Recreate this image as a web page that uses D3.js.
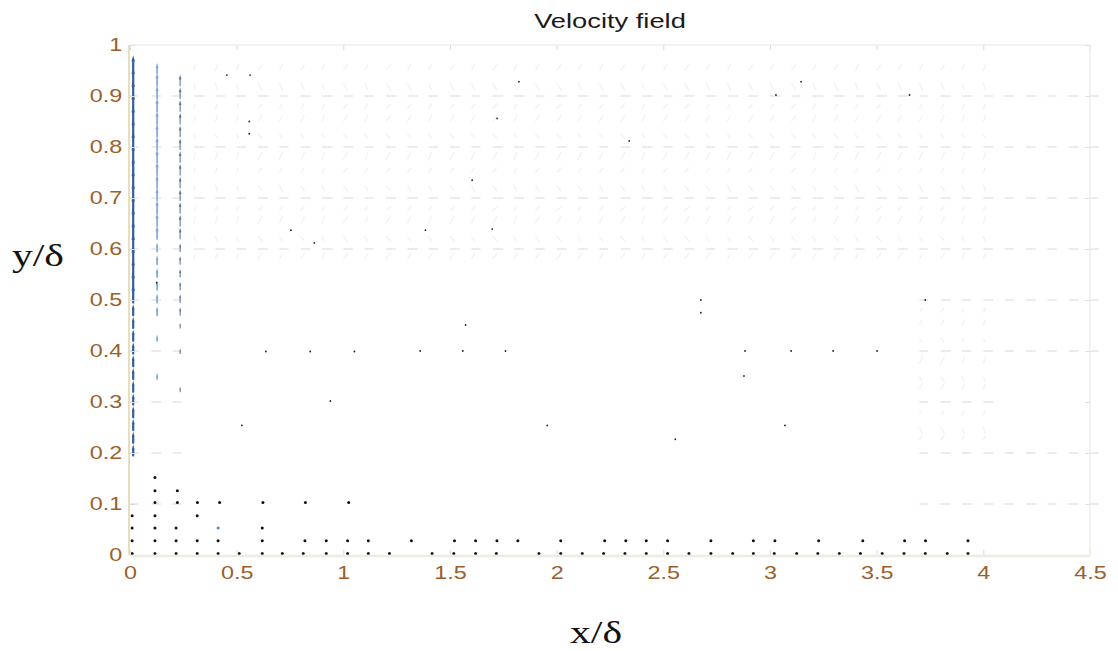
<!DOCTYPE html>
<html>
<head>
<meta charset="utf-8">
<script src="https://cdn.jsdelivr.net/npm/d3@7"></script>
<style>
  body { margin: 0; background: #ffffff; }
  svg { display: block; }
</style>
</head>
<body>
<svg id="chart" width="1118" height="651"></svg>
<script>
// ---- axis ticks ----
const xTicks = [0, 0.5, 1, 1.5, 2, 2.5, 3, 3.5, 4, 4.5];
const yTicks = [0, 0.1, 0.2, 0.3, 0.4, 0.5, 0.6, 0.7, 0.8, 0.9, 1];

// ---- wall jet: three columns of upward vectors near x = 0 ----
const jetX = [0.015, 0.127, 0.235];
const jetRowY = [0.945, 0.92, 0.895, 0.87, 0.845, 0.82, 0.795, 0.77, 0.745, 0.72,
                 0.695, 0.67, 0.645, 0.62, 0.595, 0.57, 0.545, 0.52, 0.495, 0.47,
                 0.445, 0.42, 0.395, 0.37, 0.345, 0.32, 0.295, 0.27, 0.245, 0.22, 0.195];
const jetV0 = [0.027, 0.027, 0.027, 0.027, 0.027, 0.027, 0.027, 0.027, 0.027, 0.027,
               0.027, 0.027, 0.027, 0.027, 0.027, 0.027, 0.027, 0.027, 0.027, 0.014,
               0.014, 0.014, 0.014, 0.014, 0.014, 0.014, 0.014, 0.014, 0.014, 0.014, 0.014];
const jetV1 = [0.014, 0.02, 0.02, 0.02, 0.02, 0.02, 0.02, 0.02, 0.02, 0.02,
               0.02, 0.02, 0.02, 0.02, 0.012, 0.012, 0.012, 0.012, 0.012, 0.012,
               0, 0.006, 0, 0, 0.006, 0, 0, 0, 0, 0, 0];
const jetV2 = [0, 0.018, 0.018, 0.018, 0.018, 0.018, 0.018, 0.018, 0.018, 0.018,
               0.018, 0.018, 0.018, 0.018, 0.012, 0.012, 0.012, 0.012, 0.012, 0.012,
               0.006, 0, 0.006, 0, 0, 0.006, 0, 0, 0, 0, 0];

// ---- measurement grid columns and horizontal components ----
const fieldColX = [0, 0.1, 0.2, 0.3, 0.4, 0.5, 0.6, 0.7, 0.8, 0.9,
                   1.0, 1.1, 1.2, 1.3, 1.4, 1.5, 1.6, 1.7, 1.8, 1.9,
                   2.0, 2.1, 2.2, 2.3, 2.4, 2.5, 2.6, 2.7, 2.8, 2.9,
                   3.0, 3.1, 3.2, 3.3, 3.4, 3.5, 3.6, 3.7, 3.8, 3.9,
                   4.0, 4.1, 4.2, 4.3, 4.4, 4.5];
const fieldU = [0.04, 0.045, 0.042, 0.05, 0.046, 0.044, 0.048, 0.043, 0.047, 0.05,
                0.045, 0.042, 0.046, 0.049, 0.044, 0.047, 0.043, 0.05, 0.046, 0.044,
                0.048, 0.045, 0.042, 0.047, 0.05, 0.044, 0.046, 0.043, 0.049, 0.045,
                0.047, 0.044, 0.05, 0.046, 0.043, 0.048, 0.045, 0.042, 0.047, 0.044,
                0.046, 0.043, 0.045, 0.044, 0.046, 0.04];

// main rows of the grid and the x-ranges where they carry vectors
const gridRowY = [0.1, 0.2, 0.3, 0.4, 0.5, 0.6, 0.7, 0.8, 0.9];
const gridRowSegments = [
  [[0, 0.25], [3.7, 4.5]],
  [[0, 0.25], [3.7, 4.5]],
  [[0, 0.25], [3.7, 4.0]],
  [[0, 0.25], [3.7, 4.5]],
  [[0, 0.25], [3.7, 4.5]],
  [[0, 4.5]],
  [[0, 4.5]],
  [[0, 4.5]],
  [[0, 4.5]]
];

// weak recirculating flow between the main rows
const wakeU = [null, null, null, 0.006, 0.01, 0.008, 0.02, 0.015, 0.018, 0.012,
               0.02, 0.016, 0.022, 0.018, 0.014, 0.02, 0.017, 0.021, 0.015, 0.019,
               0.022, 0.016, 0.018, 0.02, 0.014, 0.019, 0.021, 0.017, 0.015, 0.02,
               0.018, 0.022, 0.016, 0.019, 0.014, 0.02, 0.017, 0.015, 0.018, 0.012,
               0.01, null, null, null, null, null];
const wakeRowY = [0.58, 0.625, 0.65, 0.675, 0.725, 0.75, 0.775, 0.825, 0.85, 0.875, 0.925, 0.95];
const wakeV = [0.012, -0.01, 0.014, 0.008, -0.012, 0.01, 0.015, -0.008, 0.012, 0.01, -0.014, 0.012];
const lowerRowY = [0.225, 0.25, 0.275, 0.325, 0.35, 0.375, 0.425, 0.45, 0.475];
const lowerV = [0.01, -0.012, 0.008, 0.012, -0.01, 0.014, -0.008, 0.012, 0.01];
const lowerFromX = 3.7, lowerToX = 4.0;

// ---- near-zero velocity samples (drawn as points) ----
const stillX0 = [0.01, 0.117, 0.216, 0.315, 0.413, 0.512, 0.62, 0.714, 0.812, 0.92,
                 1.02, 1.117, 1.216, 1.416, 1.518, 1.62, 1.717, 1.917, 2.019, 2.12,
                 2.22, 2.32, 2.42, 2.52, 2.62, 2.723, 2.825, 2.922, 3.02, 3.125,
                 3.224, 3.325, 3.424, 3.526, 3.628, 3.728, 3.831, 3.928];
const stillX1 = [0.01, 0.117, 0.216, 0.315, 0.413, 0.62, 0.82, 0.92, 1.02, 1.117,
                 1.319, 1.521, 1.62, 1.72, 1.818, 2.019, 2.225, 2.324, 2.42, 2.52,
                 2.723, 2.922, 3.023, 3.228, 3.435, 3.631, 3.729, 3.928];
const stillRowY = [0.003, 0.028];
const nearWallX = [0.01, 0.117, 0.216, 0.62, 0.01, 0.117, 0.315,
                   0.117, 0.222, 0.316, 0.42, 0.623, 0.822, 1.025, 0.117, 0.222, 0.117];
const nearWallY = [0.053, 0.053, 0.053, 0.053, 0.077, 0.077, 0.077,
                   0.103, 0.103, 0.103, 0.103, 0.103, 0.103, 0.103, 0.126, 0.126, 0.152];
const scatterX = [0.524, 1.956, 2.556, 3.07, 0.454, 0.563, 0.559, 0.559, 0.125, 0.754,
                  0.864, 0.637, 0.845, 1.052, 0.939, 1.36, 1.56, 1.76, 1.573, 1.604,
                  1.385, 1.698, 1.721, 1.823, 2.34, 2.883, 3.099, 3.296, 3.502, 2.878,
                  2.676, 2.676, 3.728, 3.028, 3.146, 3.654];
const scatterY = [0.254, 0.254, 0.227, 0.254, 0.941, 0.941, 0.85, 0.826, 0.534, 0.637,
                  0.612, 0.399, 0.399, 0.399, 0.302, 0.4, 0.4, 0.4, 0.451, 0.735,
                  0.637, 0.639, 0.856, 0.928, 0.812, 0.4, 0.4, 0.4, 0.4, 0.351,
                  0.5, 0.475, 0.5, 0.902, 0.928, 0.902];
const bluePointX = [0.413];
const bluePointY = [0.053];

// ---- layout ----
const svg = d3.select("#chart");
const plot = { left: 130, right: 1090, top: 45, bottom: 555 };
const x = d3.scaleLinear().domain([0, 4.5]).range([plot.left, plot.right]);
const y = d3.scaleLinear().domain([0, 1]).range([plot.bottom, plot.top]);
const wide = "scale(1.3,1)";
const tickColor = "#9b5f2c";

// quiver arrow path: shaft plus two head strokes of relative size `head`
function arrowPath(x0, y0, u, v, head) {
  const px = x(x0), py = y(y0);
  const qx = x(x0 + u), qy = y(y0 + v);
  const dx = qx - px, dy = qy - py;
  const len = Math.hypot(dx, dy);
  let p = `M${px},${py}L${qx},${qy}`;
  if (len > 3 && head > 0) {
    const a = head, b = 0.3;
    const h1x = qx - a * (dx + b * dy), h1y = qy - a * (dy - b * dx);
    const h2x = qx - a * (dx - b * dy), h2y = qy - a * (dy + b * dx);
    p += `M${h1x},${h1y}L${qx},${qy}L${h2x},${h2y}`;
  }
  return p;
}

// plot background
svg.append("rect")
  .attr("x", plot.left).attr("y", plot.top)
  .attr("width", plot.right - plot.left).attr("height", plot.bottom - plot.top)
  .attr("fill", "#ffffff");

const field = svg.append("g");

// main grid rows (faint horizontal vectors)
const gridMarks = [];
gridRowY.forEach((ry, r) => {
  gridRowSegments[r].forEach(([a, b]) => {
    fieldColX.forEach((cx, i) => {
      if (cx >= a - 1e-9 && cx <= b + 1e-9) gridMarks.push({ x: cx, y: ry, u: fieldU[i], v: 0 });
    });
  });
});
field.append("g").selectAll("path").data(gridMarks).join("path")
  .attr("d", d => arrowPath(d.x, d.y, d.u, d.v, 0))
  .attr("fill", "none")
  .attr("stroke", "#cfcfcf")
  .attr("stroke-opacity", 0.5)
  .attr("stroke-width", 1.6);

// recirculation region above the jet and near the far end
const wakeMarks = [];
wakeRowY.forEach((ry, r) => {
  fieldColX.forEach((cx, i) => {
    if (wakeU[i] !== null) wakeMarks.push({ x: cx, y: ry, u: wakeU[i], v: wakeV[r] });
  });
});
lowerRowY.forEach((ry, r) => {
  fieldColX.forEach((cx, i) => {
    if (cx >= lowerFromX - 1e-9 && cx <= lowerToX + 1e-9 && wakeU[i] !== null)
      wakeMarks.push({ x: cx, y: ry, u: wakeU[i], v: lowerV[r] });
  });
});
field.append("g").selectAll("path").data(wakeMarks).join("path")
  .attr("d", d => arrowPath(d.x, d.y, d.u, d.v, 0))
  .attr("fill", "none")
  .attr("stroke", "#dadada")
  .attr("stroke-opacity", 0.4)
  .attr("stroke-width", 1.2);

// wall jet columns
const jetV = [jetV0, jetV1, jetV2];
const jetStyle = [
  { stroke: "#31609f", width: 2.2, head: 0.12 },
  { stroke: "#80a9d8", width: 1.7, head: 0.2 },
  { stroke: "#5e7a96", width: 1.1, head: 0.25 }
];
jetX.forEach((cx, c) => {
  const marks = jetRowY.map((ry, r) => ({ x: cx, y: ry, u: 0, v: jetV[c][r] }))
    .filter(d => d.v > 0);
  field.append("g").selectAll("path").data(marks).join("path")
    .attr("d", d => arrowPath(d.x, d.y, d.u, d.v, jetStyle[c].head))
    .attr("fill", "none")
    .attr("stroke", jetStyle[c].stroke)
    .attr("stroke-width", jetStyle[c].width)
    .attr("stroke-linecap", "round");
});

// near-zero samples as points
const stillPts = [];
stillX0.forEach(v => stillPts.push({ x: v, y: stillRowY[0] }));
stillX1.forEach(v => stillPts.push({ x: v, y: stillRowY[1] }));
nearWallX.forEach((v, i) => stillPts.push({ x: v, y: nearWallY[i] }));
field.append("g").selectAll("circle").data(stillPts).join("circle")
  .attr("cx", d => x(d.x)).attr("cy", d => y(d.y))
  .attr("r", 1.5).attr("fill", "#111");
field.append("g").selectAll("circle").data(scatterX.map((v, i) => ({ x: v, y: scatterY[i] })))
  .join("circle")
  .attr("cx", d => x(d.x)).attr("cy", d => y(d.y))
  .attr("r", 0.9).attr("fill", "#222");
field.append("g").selectAll("circle").data(bluePointX.map((v, i) => ({ x: v, y: bluePointY[i] })))
  .join("circle")
  .attr("cx", d => x(d.x)).attr("cy", d => y(d.y))
  .attr("r", 1.5).attr("fill", "#4a8ed0");

// ---- axes ----
const xAxis = svg.append("g")
  .attr("transform", `translate(0,${plot.bottom})`)
  .call(d3.axisBottom(x).tickValues(xTicks).tickFormat(d3.format("~g"))
    .tickSizeInner(-5).tickSizeOuter(0).tickPadding(11));
const yAxis = svg.append("g")
  .attr("transform", `translate(${plot.left},0)`)
  .call(d3.axisLeft(y).tickValues(yTicks).tickFormat(d3.format("~g"))
    .tickSizeInner(-5).tickSizeOuter(0).tickPadding(6));
const xTop = svg.append("g")
  .attr("transform", `translate(0,${plot.top})`)
  .call(d3.axisTop(x).tickValues(xTicks).tickFormat("").tickSizeInner(-5).tickSizeOuter(0));
const yRight = svg.append("g")
  .attr("transform", `translate(${plot.right},0)`)
  .call(d3.axisRight(y).tickValues(yTicks).tickFormat("").tickSizeInner(-5).tickSizeOuter(0));

[xAxis, yAxis, xTop, yRight].forEach(g => {
  g.select(".domain").remove();
  g.selectAll(".tick line").attr("stroke", "#e2dccf").attr("stroke-width", 1);
});
[xAxis, yAxis].forEach(g => {
  g.selectAll(".tick text")
    .attr("fill", tickColor)
    .attr("font-family", "'Liberation Sans', Arial, Helvetica, sans-serif")
    .attr("font-size", 18)
    .attr("transform", wide);
});

// frame
svg.append("line").attr("x1", plot.left).attr("x2", plot.right)
  .attr("y1", plot.top).attr("y2", plot.top)
  .attr("stroke", "#e6e6e6").attr("stroke-width", 1.2);
svg.append("line").attr("x1", plot.right).attr("x2", plot.right)
  .attr("y1", plot.top).attr("y2", plot.bottom)
  .attr("stroke", "#ece9e2").attr("stroke-width", 1.2);
svg.append("line").attr("x1", plot.left).attr("x2", plot.right)
  .attr("y1", plot.bottom + 1).attr("y2", plot.bottom + 1)
  .attr("stroke", "#f0ebdf").attr("stroke-width", 2.5);
svg.append("line").attr("x1", plot.left - 1).attr("x2", plot.left - 1)
  .attr("y1", plot.top).attr("y2", plot.bottom)
  .attr("stroke", "#e9dcbf").attr("stroke-width", 2);

// ---- titles ----
svg.append("text")
  .attr("transform", `translate(${(plot.left + plot.right) / 2},28) ${wide}`)
  .attr("text-anchor", "middle")
  .attr("font-family", "'Liberation Sans', Arial, Helvetica, sans-serif")
  .attr("font-size", 21)
  .attr("fill", "#1a1a1a")
  .text("Velocity field");

svg.append("text")
  .attr("transform", `translate(596,643) ${wide}`)
  .attr("text-anchor", "middle")
  .attr("font-family", "'Liberation Serif', 'Times New Roman', serif")
  .attr("font-size", 32)
  .attr("fill", "#111")
  .text("x/δ");

svg.append("text")
  .attr("transform", `translate(12,266) ${wide}`)
  .attr("text-anchor", "start")
  .attr("font-family", "'Liberation Serif', 'Times New Roman', serif")
  .attr("font-size", 32)
  .attr("fill", "#111")
  .text("y/δ");
</script>
</body>
</html>
